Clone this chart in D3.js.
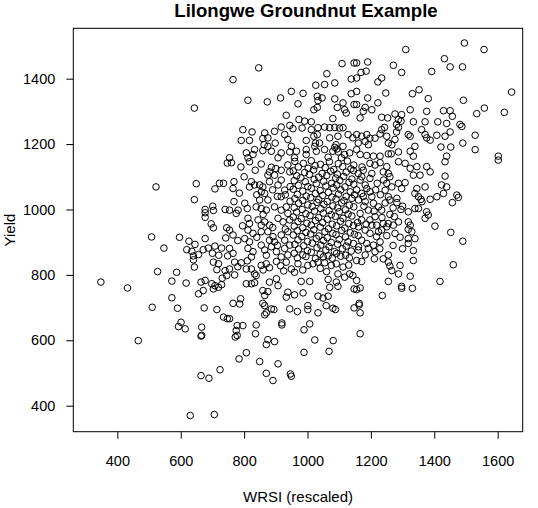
<!DOCTYPE html>
<html><head><meta charset="utf-8">
<script src="https://cdn.jsdelivr.net/npm/d3@7"></script>
<style>
body{margin:0;background:#fff}
svg{display:block}
text{font-family:"Liberation Sans",Arial,Helvetica,sans-serif;fill:#000}
</style>
</head><body>
<svg id="chart" width="538" height="508"></svg>
<script>
const chartTitle = "Lilongwe Groundnut Example";
const xLabel = "WRSI (rescaled)";
const yLabel = "Yield";
const xTicks = [400, 600, 800, 1000, 1200, 1400, 1600];
const yTicks = [400, 600, 800, 1000, 1200, 1400];

// [WRSI, Yield] pairs, grouped by region
const obsLowWrsiHigh = [[643,1310],[747,1142],[522,1069],[649,1079],[708,1063],[722,1080],[735,1080],[643,1030],[701,1010],[677,1000],[677,990],[677,976],[703,997],[740,1000],[696,956],[703,944],[745,944],[508,916],[596,915],[547,882],[626,903],[645,893],[619,877],[635,872],[677,911],[671,877],[687,882],[708,888],[729,882],[742,913],[656,862],[640,858],[720,860],[748,858],[700,866]];

const obsTopMid = [[765,1397],[846,1433],[1109,1446],[1147,1448],[1061,1415],[1138,1399],[1026,1380],[1054,1382],[1086,1387],[812,1334],[873,1329],[915,1341],[949,1361],[986,1355],[970,1323],[1031,1346],[1046,1341],[1033,1333],[1086,1338],[1112,1326],[1117,1305],[1122,1295],[1138,1354],[1094,1312],[1031,1312],[1020,1305],[933,1288],[1147,1321],[973,1275],[991,1270],[1012,1268],[1080,1278],[917,1252],[944,1257],[954,1247],[796,1244],[825,1237],[791,1211],[817,1211],[865,1234],[896,1239],[983,1249],[1012,1244],[1033,1250],[1054,1252],[1070,1250],[1086,1251],[1101,1249],[1112,1250],[1031,1229],[1020,1224],[859,1217],[875,1219],[863,1198],[875,1193],[898,1203],[928,1229],[938,1214],[996,1211],[1025,1203],[1038,1203],[1070,1219],[1096,1224],[1128,1229],[1143,1219],[833,1183],[807,1173],[828,1168],[859,1180],[886,1178],[917,1173],[949,1193],[944,1176],[965,1178],[996,1183],[996,1168],[1023,1193],[1028,1178],[1054,1183],[1086,1190],[1090,1198],[1093,1185],[1080,1178],[1097,1176],[1112,1193],[1117,1168],[1133,1173],[754,1158],[812,1158],[907,1158],[959,1158],[1065,1160],[1107,1158]];

const obsTopRight = [[1495,1509],[1310,1489],[1557,1489],[1432,1461],[1190,1451],[1155,1448],[1271,1441],[1450,1436],[1489,1436],[1297,1419],[1392,1422],[1169,1419],[1185,1423],[1155,1402],[1234,1402],[1222,1390],[1644,1359],[1155,1361],[1247,1356],[1331,1354],[1352,1366],[1381,1339],[1190,1341],[1222,1326],[1155,1321],[1492,1334],[1558,1310],[1534,1293],[1621,1297],[1182,1312],[1176,1300],[1203,1305],[1166,1280],[1324,1305],[1376,1300],[1429,1302],[1450,1302],[1457,1285],[1234,1282],[1253,1280],[1276,1292],[1297,1290],[1287,1275],[1295,1270],[1281,1260],[1334,1268],[1371,1268],[1411,1268],[1439,1263],[1481,1260],[1487,1254],[1360,1244],[1318,1229],[1324,1224],[1371,1229],[1376,1219],[1387,1212],[1408,1227],[1434,1224],[1450,1237],[1281,1237],[1287,1251],[1243,1251],[1234,1244],[1229,1231],[1250,1224],[1255,1203],[1213,1218],[1197,1218],[1187,1229],[1192,1198],[1182,1208],[1529,1227],[1490,1203],[1421,1191],[1452,1191],[1529,1183],[1339,1193],[1324,1178],[1334,1163],[1276,1214],[1266,1198],[1287,1176],[1255,1170],[1229,1163],[1208,1163],[1187,1165],[1166,1168],[1155,1183],[1160,1203],[1155,1229],[1171,1224],[1602,1163],[1439,1163],[1264,1170]];

const obsCoreLeft = [[760,1143],[817,1146],[854,1139],[886,1129],[880,1115],[875,1105],[917,1120],[938,1136],[944,1115],[768,1085],[765,1064],[823,1085],[817,1069],[833,1075],[849,1075],[859,1069],[854,1054],[865,1049],[896,1105],[917,1090],[907,1075],[928,1059],[917,1039],[875,1029],[849,1029],[768,1024],[802,1019],[810,1003],[781,998],[775,988],[754,998],[838,1008],[854,1003],[870,998],[896,1008],[917,998],[933,1008],[938,988],[812,973],[817,957],[844,968],[854,952],[865,962],[880,952],[907,973],[923,962],[944,968],[754,937],[765,922],[812,937],[828,927],[802,911],[817,901],[854,932],[875,932],[891,917],[880,906],[896,901],[917,922],[938,932],[928,906],[754,881],[765,866],[812,881],[828,871],[823,855],[854,891],[865,876],[886,886],[902,871],[928,881],[944,891],[938,861],[917,855],[790,1130],[800,1100],[930,1045],[945,1025],[890,1060],[905,1040],[860,985],[890,945],[930,940],[795,950],[840,915],[905,890],[785,1050],[840,1045],[880,1085],[945,1070],[900,1125],[835,1120],[780,905],[870,860]];

const obsCoreCentre = [[960,1147],[987,1141],[1012,1149],[1041,1138],[1069,1146],[1097,1140],[1126,1148],[1146,1136],[971,1130],[1002,1126],[1024,1134],[1056,1128],[1083,1122],[1111,1131],[1137,1124],[955,1118],[991,1113],[1019,1121],[1046,1110],[1073,1117],[1094,1108],[1122,1114],[1145,1119],[966,1103],[979,1097],[1006,1107],[1035,1099],[1061,1104],[1089,1096],[1114,1101],[1140,1093],[958,1088],[993,1085],[1021,1092],[1051,1086],[1076,1080],[1102,1089],[1131,1083],[971,1074],[1001,1070],[1028,1079],[1058,1072],[1081,1066],[1092,1075],[1118,1069],[1146,1077],[955,1062],[985,1056],[1012,1065],[1040,1058],[1066,1052],[1105,1060],[1135,1054],[968,1046],[996,1041],[1025,1049],[1048,1043],[1077,1038],[1098,1047],[1122,1040],[1148,1045],[960,1033],[985,1028],[1010,1036],[1035,1030],[1062,1024],[1090,1032],[1115,1027],[1140,1034],[972,1019],[1001,1014],[1030,1022],[1052,1016],[1080,1011],[1108,1020],[1132,1013],[958,1006],[983,1000],[1015,1009],[1042,1002],[1068,997],[1095,1005],[1120,999],[1146,1008],[966,992],[995,987],[1022,995],[1050,989],[1075,984],[1100,993],[1128,986],[955,977],[980,972],[1008,981],[1035,975],[1062,970],[1088,979],[1112,973],[1140,980],[970,963],[998,958],[1025,966],[1048,960],[1078,955],[1104,964],[1130,957],[958,949],[985,944],[1012,952],[1040,946],[1066,941],[1092,950],[1118,943],[1145,951],[968,935],[995,930],[1020,938],[1055,932],[1080,927],[1108,936],[1135,929],[955,922],[982,917],[1010,925],[1036,919],[1062,914],[1090,923],[1120,916],[1148,924],[970,907],[1000,902],[1028,911],[1050,905],[1075,899],[1100,908],[1128,901],[960,893],[988,889],[1015,897],[1042,891],[1068,886],[1095,894],[1122,888],[1145,896],[972,879],[1000,874],[1030,883],[1058,876],[1085,871],[1110,880],[1138,873],[958,866],[985,861],[1012,869],[1040,863],[1065,858],[1092,866],[1120,860],[968,852],[995,856],[1025,850],[1050,855],[1078,851],[1105,857],[1132,852]];

const obsCoreRight = [[1434,1146],[1602,1151],[1287,1146],[1308,1141],[1324,1126],[1345,1131],[1376,1131],[1387,1115],[1334,1105],[1355,1105],[1434,1102],[1197,1141],[1213,1136],[1229,1143],[1250,1131],[1239,1115],[1255,1110],[1260,1100],[1203,1110],[1197,1095],[1176,1120],[1171,1100],[1160,1110],[1287,1080],[1308,1082],[1297,1064],[1250,1080],[1245,1059],[1266,1069],[1345,1064],[1339,1049],[1371,1069],[1350,1039],[1423,1075],[1439,1069],[1429,1049],[1408,1039],[1387,1031],[1471,1044],[1476,1037],[1457,1021],[1358,1031],[1361,1024],[1255,1039],[1282,1034],[1282,1021],[1260,1029],[1339,1003],[1350,1003],[1318,993],[1376,993],[1381,983],[1371,973],[1402,949],[1452,930],[1490,903],[1274,978],[1287,962],[1271,952],[1255,957],[1318,962],[1324,952],[1318,939],[1329,932],[1276,927],[1292,915],[1318,911],[1339,911],[1318,896],[1334,874],[1239,957],[1250,947],[1224,932],[1218,917],[1229,901],[1255,861],[1213,871],[1192,881],[1182,861],[1160,876],[1166,1090],[1182,1075],[1187,1064],[1171,1049],[1197,1054],[1203,1039],[1161,1029],[1182,1024],[1208,1019],[1224,1008],[1234,998],[1192,998],[1166,988],[1171,968],[1197,968],[1213,978],[1203,952],[1182,937],[1161,947],[1197,927],[1171,906],[1187,896],[1208,891],[1161,886],[1218,952],[1234,937],[1176,1040],[1155,1060],[1220,1080],[1240,1090],[1215,1060],[1230,1045],[1245,1020],[1270,1005],[1300,1010],[1210,995],[1178,1010],[1158,960],[1185,955],[1235,975],[1260,985],[1295,1000],[1250,920],[1270,890],[1300,880],[1228,880],[1160,920],[1172,1130]];

const obsLowLeft = [[348,778],[432,760],[527,810],[587,808],[572,781],[617,775],[643,824],[640,846],[703,839],[719,834],[714,816],[740,813],[664,778],[677,783],[671,752],[656,742],[698,773],[708,767],[703,757],[719,762],[729,770],[731,790],[745,798],[572,730],[510,701],[590,698],[674,699],[714,694],[735,671],[747,666],[601,655],[593,642],[614,635],[666,640],[666,615],[664,613],[466,599],[664,492],[689,484],[724,510],[630,370],[706,373]];

const obsLowMid = [[770,839],[791,837],[807,818],[833,803],[838,798],[823,818],[854,829],[870,834],[902,841],[933,839],[949,818],[959,808],[970,834],[1001,829],[1017,834],[1033,839],[1054,837],[1075,829],[1091,834],[1112,824],[1096,803],[1117,793],[1133,803],[1143,798],[770,800],[754,818],[860,815],[880,822],[915,828],[925,812],[985,815],[1040,820],[1060,810],[1130,830],[780,825],[810,843],[807,773],[823,773],[833,776],[880,778],[902,788],[907,767],[859,752],[875,749],[865,737],[938,747],[933,732],[959,739],[986,745],[980,780],[1007,780],[1065,786],[1091,778],[1070,762],[1096,765],[1033,735],[1049,729],[1065,735],[1147,757],[765,713],[789,727],[786,711],[859,713],[865,706],[886,696],[894,694],[870,684],[865,678],[944,696],[968,688],[1001,706],[1001,694],[1033,684],[1059,706],[1080,698],[1088,694],[1147,699],[754,666],[778,645],[796,645],[775,630],[772,610],[778,615],[838,647],[836,620],[919,653],[919,647],[1007,650],[989,632],[875,602],[896,596],[870,587],[1023,601],[1081,599],[807,562],[784,543],[989,563],[1068,566],[849,535],[907,528],[870,499],[891,477],[946,497],[949,490]];

const obsLowRight = [[1171,841],[1155,844],[1211,849],[1239,849],[1255,839],[1260,827],[1266,813],[1287,803],[1292,829],[1334,844],[1460,831],[1324,796],[1255,780],[1418,780],[1297,765],[1297,759],[1331,759],[1236,737],[1155,783],[1166,760],[1155,755],[1163,713],[1163,708],[1166,684],[1166,620]];

const observations = [].concat(obsLowWrsiHigh, obsTopMid, obsTopRight, obsCoreLeft,
  obsCoreCentre, obsCoreRight, obsLowLeft, obsLowMid, obsLowRight);

(function draw() {
  const svg = d3.select("#chart");
  const pLeft = 73.3, pRight = 522.7, pTop = 28.3, pBottom = 431.7;

  const x = d3.scaleLinear().domain([261, 1679]).range([pLeft, pRight]);
  const y = d3.scaleLinear().domain([320.5, 1554]).range([pBottom, pTop]);

  // points
  svg.append("g").selectAll("circle").data(observations).join("circle")
    .attr("cx", d => x(d[0])).attr("cy", d => y(d[1])).attr("r", 3.3)
    .attr("fill", "none").attr("stroke", "#000").attr("stroke-width", 1);

  // axes
  const xAxis = svg.append("g").attr("transform", `translate(0,${pBottom})`)
    .call(d3.axisBottom(x).tickValues(xTicks).tickSize(7).tickSizeOuter(0).tickFormat(d3.format("d")));
  xAxis.select(".domain").remove();
  xAxis.selectAll(".tick line").attr("stroke", "#000");
  xAxis.selectAll("text").attr("y", 34.5).attr("dy", 0)
    .style("font-size", "14.5px").attr("font-family", null);

  const yAxis = svg.append("g").attr("transform", `translate(${pLeft},0)`)
    .call(d3.axisLeft(y).tickValues(yTicks).tickSize(7).tickSizeOuter(0).tickPadding(11).tickFormat(d3.format("d")));
  yAxis.select(".domain").remove();
  yAxis.selectAll(".tick line").attr("stroke", "#000");
  yAxis.selectAll("text").style("font-size", "14.5px").attr("font-family", null);

  // box
  svg.append("rect").attr("x", pLeft).attr("y", pTop)
    .attr("width", pRight - pLeft).attr("height", pBottom - pTop)
    .attr("fill", "none").attr("stroke", "#000").attr("stroke-width", 1);

  // titles
  svg.append("text").attr("x", 306).attr("y", 16.7).attr("text-anchor", "middle")
    .style("font-size", "18.6px").style("font-weight", "bold").text(chartTitle);
  svg.append("text").attr("x", (pLeft + pRight) / 2).attr("y", 502).attr("text-anchor", "middle")
    .style("font-size", "15px").text(xLabel);
  svg.append("text").attr("transform", `translate(15,${(pTop + pBottom) / 2}) rotate(-90)`)
    .attr("text-anchor", "middle").style("font-size", "15px").text(yLabel);
})();
</script>
</body></html>
